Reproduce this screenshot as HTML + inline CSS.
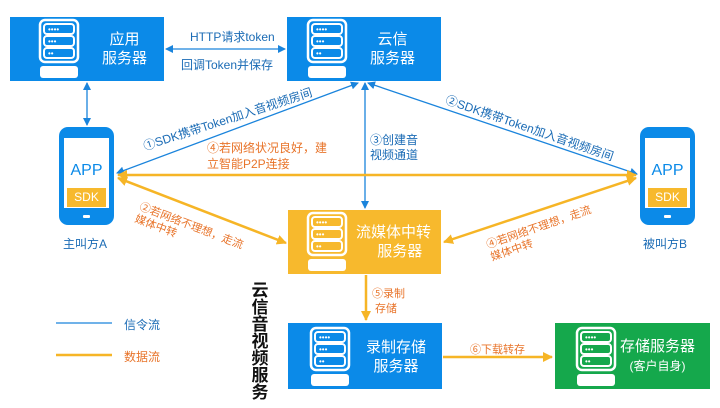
<!DOCTYPE html>
<html><head><meta charset="utf-8"><style>
body{margin:0;width:720px;height:408px;background:#fff;position:relative;overflow:hidden;font-family:"Liberation Sans","Noto Sans CJK SC",sans-serif}
.t{position:absolute;white-space:nowrap}
</style></head><body>
<svg width="720" height="408" style="position:absolute;left:0;top:0">
<defs>
<g id="srv">
<rect x="0" y="0" width="30" height="10" rx="3" fill="none" stroke="#fff" stroke-width="2"/>
<rect x="0" y="12" width="30" height="10" rx="3" fill="none" stroke="#fff" stroke-width="2"/>
<rect x="0" y="24" width="30" height="10" rx="3" fill="none" stroke="#fff" stroke-width="2"/>
<rect x="-4" y="-4" width="38" height="42" rx="5" fill="none" stroke="#fff" stroke-width="2.5"/>
<text x="4" y="8" fill="#fff" font-size="8" font-family="Liberation Sans">••••</text>
<text x="4" y="20" fill="#fff" font-size="8" font-family="Liberation Sans">•••</text>
<text x="4" y="32" fill="#fff" font-size="8" font-family="Liberation Sans">••</text>
<rect x="-4" y="42" width="38" height="12" rx="3" fill="#fff"/>
</g>
<marker id="ab" markerWidth="8" markerHeight="8" refX="7" refY="4" orient="auto-start-reverse" markerUnits="userSpaceOnUse"><path d="M0,0 L8,4 L0,8 z" fill="#1a84dc"/></marker>
<marker id="ao" markerWidth="10" markerHeight="10" refX="9" refY="5" orient="auto-start-reverse" markerUnits="userSpaceOnUse"><path d="M0,0 L10,5 L0,10 z" fill="#f6b526"/></marker>
</defs>
<rect x="10" y="17" width="154" height="64" fill="#0b8ae8"/>
<rect x="287" y="17" width="154" height="64" fill="#0b8ae8"/>
<rect x="288" y="210" width="153" height="64" fill="#f7b92d"/>
<rect x="288" y="323" width="154" height="66" fill="#0b8ae8"/>
<rect x="555" y="323" width="155" height="66" fill="#15a84c"/>
<use href="#srv" x="44" y="24"/>
<use href="#srv" x="312" y="24"/>
<use href="#srv" x="312" y="217"/>
<use href="#srv" x="315" y="332"/>
<use href="#srv" x="581" y="332"/>
<rect x="59" y="127" width="55" height="98" rx="9" fill="#0b8ae8"/>
<rect x="64" y="138" width="45" height="70" fill="#fff"/>
<rect x="67" y="188" width="39" height="19" fill="#f7b92d"/>
<rect x="83" y="215" width="7" height="3" rx="1" fill="#fff"/>
<rect x="640" y="127" width="55" height="98" rx="9" fill="#0b8ae8"/>
<rect x="645" y="138" width="45" height="70" fill="#fff"/>
<rect x="648" y="188" width="39" height="19" fill="#f7b92d"/>
<rect x="664" y="215" width="7" height="3" rx="1" fill="#fff"/>
<g stroke="#1a84dc" stroke-width="1.3" fill="none">
<line x1="166" y1="49" x2="285" y2="49" marker-start="url(#ab)" marker-end="url(#ab)"/>
<line x1="87" y1="83" x2="87" y2="125" marker-start="url(#ab)" marker-end="url(#ab)"/>
<line x1="358" y1="83" x2="117" y2="173" marker-start="url(#ab)" marker-end="url(#ab)"/>
<line x1="368" y1="83" x2="637" y2="174" marker-start="url(#ab)" marker-end="url(#ab)"/>
<line x1="365" y1="83" x2="365" y2="208" marker-start="url(#ab)" marker-end="url(#ab)"/>
<line x1="56" y1="323" x2="112" y2="323"/>
</g>
<g stroke="#f6b526" stroke-width="2.5" fill="none">
<line x1="118" y1="175" x2="636" y2="175" marker-start="url(#ao)" marker-end="url(#ao)"/>
<line x1="118" y1="178" x2="286" y2="243" marker-start="url(#ao)" marker-end="url(#ao)"/>
<line x1="636" y1="178" x2="444" y2="242" marker-start="url(#ao)" marker-end="url(#ao)"/>
<line x1="366" y1="275" x2="366" y2="320" marker-end="url(#ao)"/>
<line x1="443" y1="357" x2="552" y2="357" marker-end="url(#ao)"/>
<line x1="56" y1="355" x2="112" y2="355"/>
</g>
</svg>
<div class="t" style="left:102px;top:30px;color:#fff;font-size:15px;line-height:19px;text-align:center">应用<br>服务器</div>
<div class="t" style="left:370px;top:30px;color:#fff;font-size:15px;line-height:19px;text-align:center">云信<br>服务器</div>
<div class="t" style="left:356px;top:223px;color:#fff;font-size:15px;line-height:19px;text-align:center">流媒体中转<br>&nbsp;&nbsp;&nbsp;服务器</div>
<div class="t" style="left:366px;top:338px;color:#fff;font-size:15px;line-height:19px;text-align:center">录制存储<br>服务器</div>
<div class="t" style="left:620px;top:337px;color:#fff;font-size:15px;line-height:19px;text-align:center">存储服务器<br><span style="font-size:12px">(客户自身)</span></div>
<div class="t" style="left:59px;width:55px;text-align:center;top:162px;color:#0b8ae8;font-size:16px">APP</div>
<div class="t" style="left:59px;width:55px;text-align:center;top:190px;color:#fff;font-size:12px">SDK</div>
<div class="t" style="left:640px;width:55px;text-align:center;top:162px;color:#0b8ae8;font-size:16px">APP</div>
<div class="t" style="left:640px;width:55px;text-align:center;top:190px;color:#fff;font-size:12px">SDK</div>
<div class="t" style="left:63px;top:235px;color:#1a6bb5;font-size:12px">主叫方A</div>
<div class="t" style="left:643px;top:235px;color:#1a6bb5;font-size:12px">被叫方B</div>
<div class="t" style="left:190px;top:28px;color:#1a6bb5;font-size:12px">HTTP请求token</div>
<div class="t" style="left:181px;top:56px;color:#1a6bb5;font-size:12px">回调Token并保存</div>
<div class="t" style="left:370px;top:133px;color:#1a6bb5;font-size:12px;line-height:15px">③创建音<br>视频通道</div>
<div class="t" style="left:207px;top:140px;color:#e8742a;font-size:12px;line-height:16px">④若网络状况良好，建<br>立智能P2P连接</div>
<div class="t" style="left:141px;top:138px;color:#1a6bb5;font-size:12px;transform:rotate(-18deg);transform-origin:0 0">①SDK携带Token加入音视频房间</div>
<div class="t" style="left:449px;top:91px;color:#1a6bb5;font-size:12px;transform:rotate(19deg);transform-origin:0 0">②SDK携带Token加入音视频房间</div>
<div class="t" style="left:142px;top:201px;color:#e8742a;font-size:11px;line-height:13px;transform:rotate(21deg);transform-origin:0 0">②若网络不理想，走流<br>媒体中转</div>
<div class="t" style="left:485px;top:240px;color:#e8742a;font-size:11px;line-height:13px;transform:rotate(-19deg);transform-origin:0 0">④若网络不理想，走流<br>媒体中转</div>
<div class="t" style="left:372px;top:287px;color:#e8742a;font-size:11px;line-height:15px">⑤录制<br>&nbsp;存储</div>
<div class="t" style="left:470px;top:341px;color:#e8742a;font-size:11px">⑥下载转存</div>
<div class="t" style="left:124px;top:316px;color:#1a6bb5;font-size:12px">信令流</div>
<div class="t" style="left:124px;top:348px;color:#e8742a;font-size:12px">数据流</div>
<div class="t" style="left:251px;top:282px;color:#111;font-size:17px;line-height:17px;width:18px;white-space:normal;text-align:center;font-weight:bold">云信音视频服务</div>
</body></html>
